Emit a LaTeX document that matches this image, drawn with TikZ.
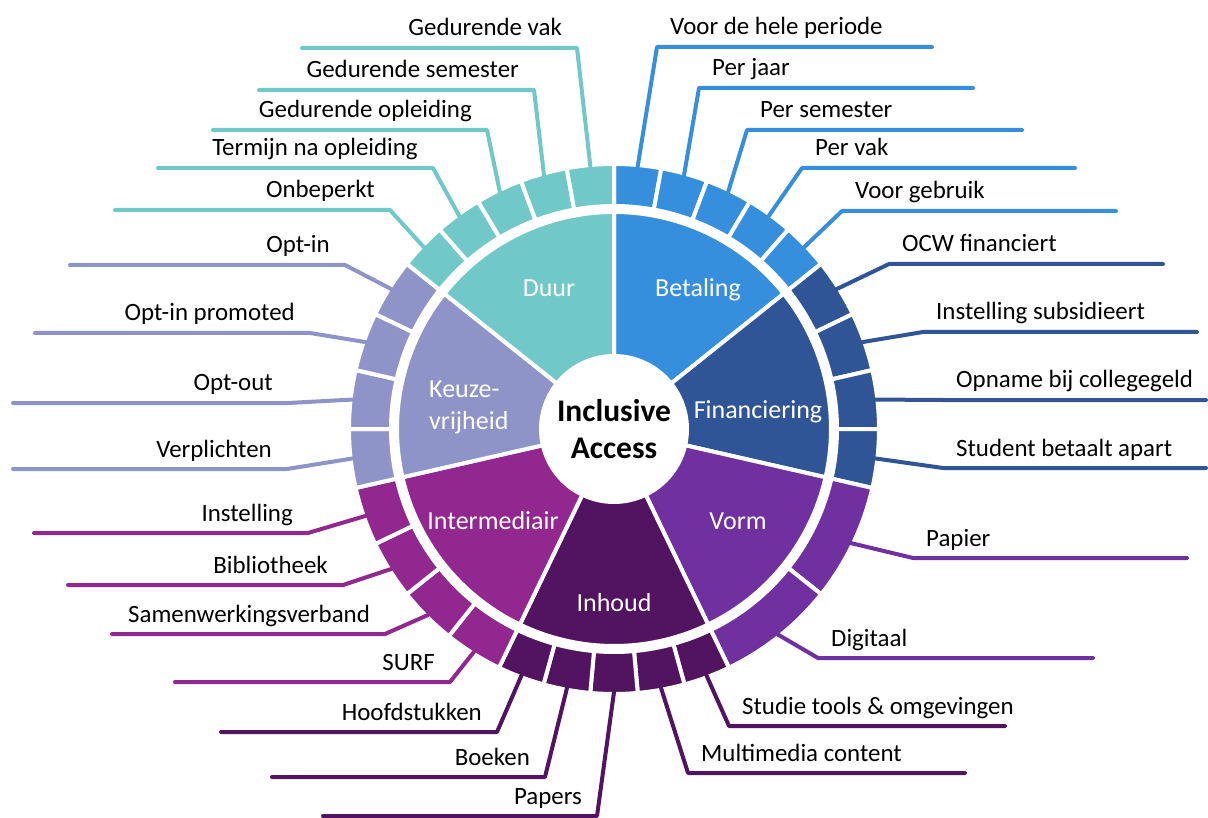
\documentclass[tikz,border=0pt]{standalone}
\usepackage{fontspec}
\setmainfont{Carlito}
\usetikzlibrary{calc}
\definecolor{cDuur}{RGB}{112,200,200}
\definecolor{cBet}{RGB}{54,143,221}
\definecolor{cFin}{RGB}{47,85,151}
\definecolor{cVorm}{RGB}{112,48,160}
\definecolor{cInh}{RGB}{82,20,96}
\definecolor{cInt}{RGB}{146,39,143}
\definecolor{cKeu}{RGB}{142,148,200}
\tikzset{
  segfill/.style={draw=white,line width=4pt,line join=miter},
  leader/.style={line width=4pt,line cap=round,line join=round},
  lbl/.style={font=\fontsize{24.9}{29}\selectfont,text=black,inner sep=0pt},
  catlbl/.style={font=\fontsize{26}{32}\selectfont,text=white,inner sep=0pt},
}
% angles are in the flipped (y down) system: clockwise from +x
\newcommand\seg[5]{\fill[#1,segfill] ($(C)+(#2:#4)$) arc[start angle=#2,end angle=#3,radius=#4] -- ($(C)+(#3:#5)$) arc[start angle=#3,end angle=#2,radius=#5] -- cycle;}
\newcommand\ringsegs[4]{\foreach \i in {1,...,#3}{\pgfmathsetmacro\aa{#2+(\i-1)*#4}\pgfmathsetmacro\bb{#2+\i*#4}\seg{#1}{\aa}{\bb}{223}{265}}}
\newcommand\leafR[7]{%
  \coordinate (#1-s) at ($(C)+(#3:263)$);
  \coordinate (#1-e) at (#4,#5);
  \coordinate (#1-f) at (#6,#5);
  \draw[leader,#2] (#1-s) -- (#1-e) -- (#1-f);
  \node[lbl,anchor=base west] (#1) at ($(#1-e)+(13,-12)$) {#7};}
\newcommand\leafL[7]{%
  \coordinate (#1-s) at ($(C)+(#3:263)$);
  \coordinate (#1-e) at (#4,#5);
  \coordinate (#1-f) at (#6,#5);
  \draw[leader,#2] (#1-s) -- (#1-e) -- (#1-f);
  \node[lbl,anchor=base east] (#1) at ($(#1-e)+(-15,-12)$) {#7};}
\begin{document}
\begin{tikzpicture}[x=1pt,y=-1pt]
\useasboundingbox (0,0) rectangle (1208,818);
\coordinate (C) at (614,429);
% inner sectors
\seg{cBet}{-90}{-38.5714}{73}{217}
\seg{cFin}{-38.5714}{12.8571}{73}{217}
\seg{cVorm}{12.8571}{64.2857}{73}{217}
\seg{cInh}{64.2857}{115.7143}{73}{217}
\seg{cInt}{115.7143}{167.1429}{73}{217}
\seg{cKeu}{167.1429}{218.5714}{73}{217}
\seg{cDuur}{218.5714}{270}{73}{217}
% outer ring
\ringsegs{cBet}{-90}{5}{10.2857}
\ringsegs{cFin}{-38.5714}{4}{12.8571}
\ringsegs{cVorm}{12.8571}{2}{25.7143}
\ringsegs{cInh}{64.2857}{5}{10.2857}
\ringsegs{cInt}{115.7143}{4}{12.8571}
\ringsegs{cKeu}{167.1429}{4}{12.8571}
\ringsegs{cDuur}{218.5714}{5}{10.2857}
% centre
\node[font=\fontsize{31.5}{37}\selectfont\bfseries,align=center,inner sep=0pt,anchor=base] (centre) at (614,458) {Inclusive\\Access};
% category labels
\node[catlbl,anchor=base] (duur) at (549,297) {Duur};
\node[catlbl,anchor=base] (betaling) at (698,297) {Betaling};
\node[catlbl,anchor=base] (financiering) at (758,418) {Financiering};
\node[catlbl,anchor=base] (vorm) at (738,529) {Vorm};
\node[catlbl,anchor=base] (inhoud) at (614,611) {Inhoud};
\node[catlbl,anchor=base] (intermediair) at (493,529) {Intermediair};
\node[catlbl,anchor=base west,align=left] (keuze) at (429,429) {Keuze-\\vrijheid};
% leaves: Betaling
\leafR{l1}{cBet}{-84.857}{657}{47}{932}{Voor de hele periode}
\leafR{l2}{cBet}{-74.571}{699}{88}{973}{Per jaar}
\leafR{l3}{cBet}{-64.286}{747}{130}{1022}{Per semester}
\leafR{l4}{cBet}{-54}{802}{168}{1075}{Per vak}
\leafR{l5}{cBet}{-43.714}{842}{211}{1116}{Voor gebruik}
% Financiering
\leafR{l6}{cFin}{-32.143}{889}{264}{1163}{OCW financiert}
\leafR{l7}{cFin}{-19.286}{923}{332}{1197}{Instelling subsidieert}
\leafR{l8}{cFin}{-6.429}{943}{400}{1206}{Opname bij collegegeld}
\leafR{l9}{cFin}{6.429}{943}{468}{1206}{Student betaalt apart}
% Vorm
\leafR{l10}{cVorm}{25.714}{913}{558}{1187}{Papier}
\leafR{l11}{cVorm}{51.429}{818}{658}{1093}{Digitaal}
% Inhoud
\leafR{l12}{cInh}{69.429}{729}{726}{1005}{Studie tools \& omgevingen}
\leafR{l13}{cInh}{79.714}{688}{773}{965}{Multimedia content}
\leafL{l14}{cInh}{90}{597}{816}{323}{Papers}
\leafL{l15}{cInh}{100.286}{545}{777}{272}{Boeken}
\leafL{l16}{cInh}{110.571}{497}{732}{221}{Hoofdstukken}
% Intermediair
\leafL{l17}{cInt}{122.143}{450}{682}{175}{SURF}
\leafL{l18}{cInt}{135}{385}{634}{112}{Samenwerkingsverband}
\leafL{l19}{cInt}{147.857}{343}{585}{68}{Bibliotheek}
\leafL{l20}{cInt}{160.714}{308}{533}{34}{Instelling}
% Keuzevrijheid
\leafL{l21}{cKeu}{173.571}{287}{469}{13}{Verplichten}
\leafL{l22}{cKeu}{186.429}{288}{403}{13}{Opt-out}
\leafL{l23}{cKeu}{199.286}{310}{333}{35}{Opt-in promoted}
\leafL{l24}{cKeu}{212.143}{345}{265}{70}{Opt-in}
% Duur
\leafL{l25}{cDuur}{223.714}{390}{210}{115}{Onbeperkt}
\leafL{l26}{cDuur}{234}{433}{168}{158}{Termijn na opleiding}
\leafL{l27}{cDuur}{244.286}{487}{130}{213}{Gedurende opleiding}
\leafL{l28}{cDuur}{254.571}{534}{90}{259}{Gedurende semester}
\leafL{l29}{cDuur}{264.857}{577}{48}{302}{Gedurende vak}
\end{tikzpicture}
\end{document}
